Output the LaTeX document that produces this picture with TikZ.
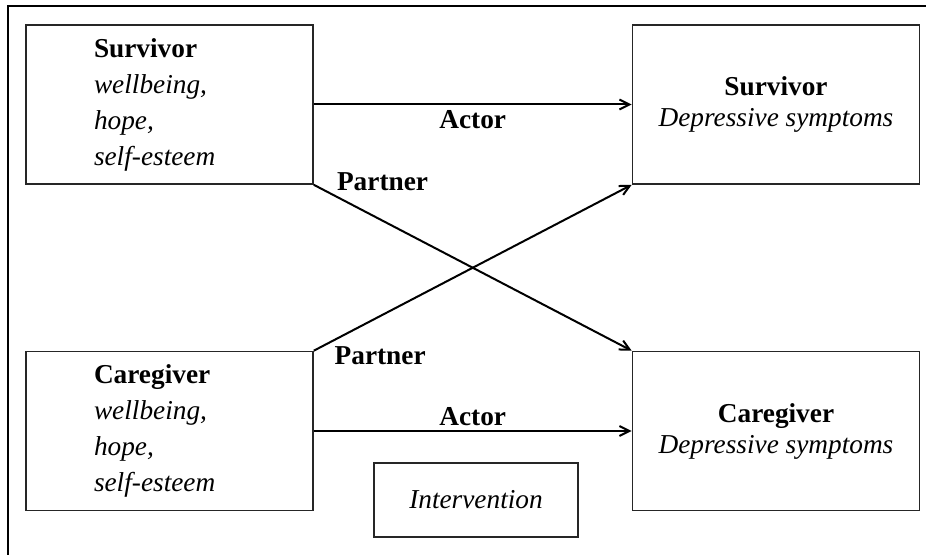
\documentclass[tikz,border=0pt]{standalone}
\usepackage{fontspec}
\setmainfont{Liberation Serif}
\usetikzlibrary{arrows.meta}

\def\boxw{143.5pt}
\def\boxh{79.5pt}
\def\leftx{169.5}
\def\rightx{776}
\tikzset{
   apimbox/.style={draw=black!85, line width=0.8pt, minimum width=\boxw, minimum height=\boxh},
   predbox/.style={apimbox, align=left, text width=75.5pt, inner xsep=34pt},
   outbox/.style={apimbox, align=center, font=\fontsize{13.65}{15.5}\selectfont},
   pathlab/.style={font=\fontsize{13.65}{18}\selectfont\bfseries, inner sep=0pt},
   apimarrow/.style={-{Straight Barb[length=5pt, width=5pt]}, line width=1pt}
}

\begin{document}
\begin{tikzpicture}[x=0.5pt, y=-0.5pt, font=\fontsize{13.65}{18}\selectfont]
\useasboundingbox (0,0) rectangle (926,555);
% frame
\draw[line width=1.2pt] (8,555) -- (8,6) -- (926,6);

\foreach \role/\tag/\ypos in {Survivor/s/104.5, Caregiver/c/431} {
    \node[predbox] (\tag-pred) at (\leftx, \ypos) {\textbf{\role}\\ \textit{wellbeing,}\\ \textit{hope,}\\ \textit{self-esteem}};
    \node[outbox] (\tag-dep) at (\rightx, \ypos) {\textbf{\role}\\ \textit{Depressive symptoms}};
}

\node[apimbox, minimum width=102pt, minimum height=37pt] (interv) at (476,500) {\textit{Intervention}};

% actor and partner paths
\draw[apimarrow] (s-pred) -- (s-dep) node[pathlab, midway, anchor=base, yshift=-12.25pt] {Actor};
\draw[apimarrow] (s-pred.south east) -- (c-dep.north west) node[pathlab, pos=0.07, anchor=base west, yshift=3pt] {Partner};
\draw[apimarrow] (c-pred.north east) -- (s-dep.south west) node[pathlab, pos=0.0625, anchor=base west, yshift=-12.2pt] {Partner};
\draw[apimarrow] (c-pred) -- (c-dep) node[pathlab, midway, anchor=base, yshift=3pt] {Actor};
\end{tikzpicture}
\end{document}
